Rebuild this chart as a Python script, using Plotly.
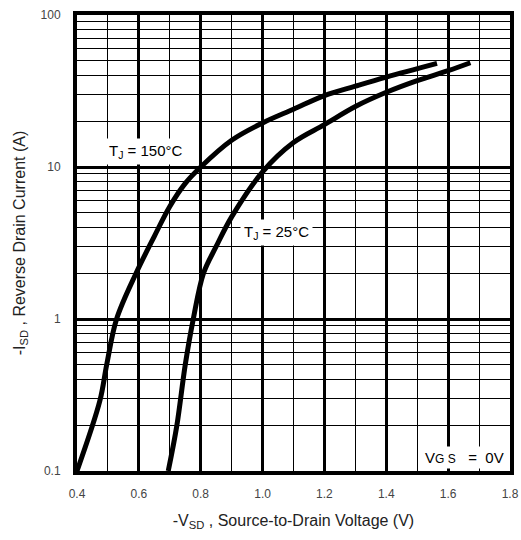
import plotly.graph_objects as go

# 150 °C curve
v_150 = [0.4, 0.474, 0.496, 0.528, 0.591, 0.65, 0.7, 0.75, 0.8, 0.9, 1.0, 1.1, 1.2, 1.3, 1.4, 1.564]
i_150 = [0.1, 0.29, 0.5, 1.0, 2.0, 3.5, 5.5, 7.8, 10, 15, 19.5, 24, 29.5, 34, 39, 48]

# 25 °C curve
v_25 = [0.695, 0.723, 0.75, 0.776, 0.809, 0.85, 0.9, 1.0, 1.1, 1.2, 1.3, 1.4, 1.5, 1.6, 1.672]
i_25 = [0.1, 0.2, 0.5, 1.0, 2.0, 3.0, 4.7, 9.3, 14.5, 19, 25, 31, 37, 43, 48.5]

FONT = "Liberation Sans, Arial, sans-serif"

fig = go.Figure()
for v, i in [(v_150, i_150), (v_25, i_25)]:
    fig.add_trace(go.Scatter(x=v, y=i, mode="lines",
                             line=dict(color="black", width=5, shape="spline", smoothing=1.0),
                             showlegend=False, hoverinfo="skip"))

fig.update_layout(
    width=521, height=540,
    margin=dict(l=77, r=11, t=15, b=69),
    paper_bgcolor="white", plot_bgcolor="white",
    font=dict(family=FONT, color="#222"),
    xaxis=dict(range=[0.4, 1.8], dtick=0.2, tick0=0.4, tickformat=".1f",
               showgrid=True, gridcolor="black", gridwidth=3,
               minor=dict(dtick=0.1, showgrid=True, gridcolor="black", gridwidth=1),
               showline=True, linecolor="black", linewidth=4, mirror=True,
               ticks="", ticklabelstandoff=9, zeroline=False, automargin=False,
               tickfont=dict(size=12, color="#444"),
               title=dict(text="-V<sub>SD</sub> , Source-to-Drain Voltage (V)",
                          font=dict(size=16, color="#222"), standoff=15)),
    yaxis=dict(type="log", range=[-1, 2], dtick=1,
               showgrid=True, gridcolor="black", gridwidth=3,
               minor=dict(dtick="D1", showgrid=True, gridcolor="black", gridwidth=1),
               showline=True, linecolor="black", linewidth=4, mirror=True,
               ticks="", ticklabelstandoff=10, zeroline=False, automargin=False,
               tickfont=dict(size=12, color="#444"),
               title=dict(text="-I<sub>SD</sub> , Reverse Drain Current (A)",
                          font=dict(size=16, color="#222"), standoff=12)),
    annotations=[
        dict(x=0.623, y=1.105, xref="x", yref="y", text="T<sub>J</sub> = 150°C",
             showarrow=False, bgcolor="white", font=dict(size=15, color="black"), borderpad=3),
        dict(x=1.044, y=0.572, xref="x", yref="y", text="T<sub>J</sub> = 25°C",
             showarrow=False, bgcolor="white", font=dict(size=15, color="black"), borderpad=3),
        dict(x=0.993, y=0.005, xref="paper", yref="paper", xanchor="right", yanchor="bottom",
             text="V<span style='font-size:12px'>G S</span>   =  0V",
             showarrow=False, bgcolor="white", font=dict(size=15, color="black"), borderpad=2),
    ],
)

fig.write_html("out.html", config={"displayModeBar": False},
               post_script="document.body.style.margin='0px';")
